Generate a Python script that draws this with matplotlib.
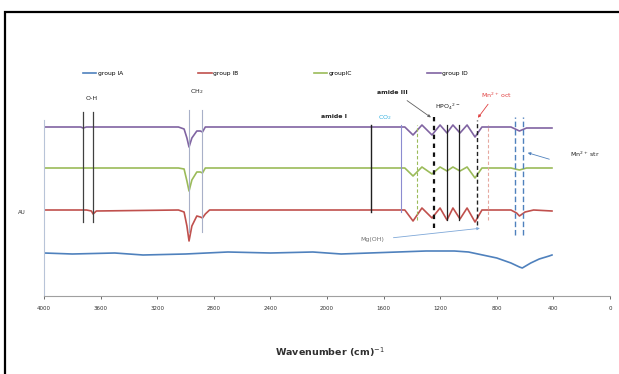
import matplotlib
matplotlib.use("Agg")
import matplotlib.pyplot as plt
from matplotlib.patches import Rectangle

# ---- data (wavenumber in cm-1, intensity in arbitrary units) ----
groups = ["group IA", "group IB", "groupIC", "group ID"]

ia_wn = [4000, 3800, 3500, 3300, 3000, 2700, 2400, 2100, 1900, 1700, 1500, 1300,
         1100, 1000, 900, 800, 700, 640, 620, 560, 500, 430, 410]
ia_val = [43, 42, 43, 41, 42, 44, 43, 44, 42, 43, 44, 45,
          45, 44, 41, 38, 33, 29, 28, 33, 37, 40, 41]

ib_wn = [4000, 3740, 3700, 3665, 3653, 3630, 3050, 3010, 2990, 2975, 2955, 2920,
         2895, 2880, 2860, 2830, 1500, 1450, 1392, 1329, 1258, 1201, 1152, 1110,
         1060, 1010, 954, 905, 700, 660, 640, 600, 540, 410]
ib_val = [86, 86, 86, 85, 82, 85, 86, 84, 70, 55, 70, 80,
          79, 78, 82, 86, 86, 86, 75, 88, 78, 88, 76, 88,
          77, 88, 74, 86, 86, 83, 80, 84, 86, 85]

ic_wn = [4000, 3050, 3010, 2990, 2975, 2955, 2920, 2895, 2880, 2860, 1500, 1450,
         1392, 1329, 1258, 1201, 1152, 1110, 1060, 1010, 954, 905, 700, 640, 590, 410]
ic_val = [128, 128, 127, 115, 105, 116, 124, 124, 123, 128, 128, 128,
          120, 129, 122, 129, 125, 129, 125, 129, 118, 128, 128, 126, 128, 128]

id_wn = [4000, 3740, 3724, 3700, 3050, 3010, 2990, 2975, 2955, 2920, 2895, 2880,
         2860, 1500, 1450, 1392, 1329, 1258, 1201, 1152, 1110, 1060, 1010, 954,
         905, 700, 640, 590, 410]
id_val = [169, 169, 168, 169, 169, 167, 158, 149, 158, 165, 165, 164,
          169, 169, 169, 161, 171, 161, 171, 163, 171, 163, 171, 159,
          169, 169, 165, 168, 168]

band_wn = [3724, 3653, 2975, 2883, 1689, 1477, 1364, 1244, 1152, 1067, 940, 862, 671, 615]
xticks = [4000, 3600, 3200, 2800, 2400, 2000, 1600, 1200, 800, 400, 0]

# ---- figure ----
W, H, DPI = 619, 374, 100
fig = plt.figure(figsize=(W / DPI, H / DPI), dpi=DPI)
fig.patch.set_facecolor("white")

ax = fig.add_axes([44 / W, 1 - 296 / H, 566 / W, 236 / H])
ax.set_xlim(4000, 0)
ax.set_ylim(0, 236)

colors = ["#4F81BD", "#C0504D", "#9BBB59", "#8064A2"]
series = [(ia_wn, ia_val), (ib_wn, ib_val), (ic_wn, ic_val), (id_wn, id_val)]
for name, (wn, val), c in zip(groups, series, colors):
    ax.plot(wn, val, color=c, lw=1.2, label=name)

# band marker lines: (ymin, ymax, colour, width, dash)
band_style = [
    (74, 184, "#404040", 0.9, None),
    (74, 184, "#404040", 0.9, None),
    (64, 186, "#A8B0C8", 0.8, None),
    (64, 186, "#A8B0C8", 0.8, None),
    (84, 171, "#202020", 1.0, None),
    (84, 171, "#8C8CD0", 0.8, None),
    (76, 171, "#9BBB59", 0.8, (3, 2)),
    (68, 179, "#101010", 1.6, (2, 2)),
    (76, 171, "#202020", 0.9, None),
    (76, 171, "#202020", 0.9, None),
    (71, 176, "#202020", 1.0, (3, 2)),
    (76, 171, "#E6A8A0", 0.8, (3, 2)),
    (61, 179, "#4F81BD", 1.0, (4, 2)),
    (61, 179, "#4F81BD", 1.0, (4, 2)),
]
for w, (y0, y1, c, lw, dash) in zip(band_wn, band_style):
    line, = ax.plot([w, w], [y0, y1], color=c, lw=lw, zorder=3)
    if dash:
        line.set_dashes(dash)

# annotations
fs = 4.5
ax.text(3660, 196, "O-H", fontsize=fs, ha="center", color="#202020")
ax.text(2920, 203, "CH$_2$", fontsize=fs, ha="center", color="#202020")
ax.text(1950, 178, "amide I", fontsize=fs, ha="center", color="#202020", weight="bold")
ax.text(1590, 177, "CO$_2$", fontsize=fs, ha="center", color="#30B0E0")
ax.text(1540, 202, "amide III", fontsize=fs, ha="center", color="#202020", weight="bold")
ax.text(1150, 187, "HPO$_4$$^{2-}$", fontsize=fs, ha="center", color="#202020")
ax.text(800, 198, "Mn$^{2+}$ oct", fontsize=fs, ha="center", color="#E04040")
ax.text(180, 139, "Mn$^{2+}$ str", fontsize=fs, ha="center", color="#202020")
ax.text(1680, 55, "Mg(OH)", fontsize=fs, ha="center", color="#707070")
ax.annotate("", xy=(1250, 177), xytext=(1450, 197),
            arrowprops=dict(arrowstyle="-|>", color="#606060", lw=0.6, mutation_scale=4))
ax.annotate("", xy=(945, 176), xytext=(850, 194),
            arrowprops=dict(arrowstyle="-|>", color="#E04040", lw=0.6, mutation_scale=4))
ax.annotate("", xy=(600, 144), xytext=(410, 136),
            arrowprops=dict(arrowstyle="-|>", color="#4F81BD", lw=0.6, mutation_scale=4))
ax.annotate("", xy=(900, 68), xytext=(1550, 58),
            arrowprops=dict(arrowstyle="-|>", color="#7FA8D8", lw=0.6, mutation_scale=4))

# axes styling
for side in ("top", "right"):
    ax.spines[side].set_visible(False)
ax.spines["left"].set_bounds(0, 176)
ax.spines["left"].set_color("#B8C4D8")
ax.spines["bottom"].set_color("#A0A0A0")
ax.spines["bottom"].set_linewidth(0.8)
ax.set_yticks([])
ax.set_xticks(xticks)
ax.set_xticklabels([str(t) for t in xticks])
ax.tick_params(axis="x", labelsize=4, colors="#303030", length=2, width=0.5, pad=5)
ax.set_facecolor("none")

ax.legend(loc="lower left", bbox_to_anchor=(83 / W, 1 - 76 / H), bbox_transform=fig.transFigure,
          ncol=4, frameon=False, fontsize=4.3, handlelength=2.2, handletextpad=0.3,
          columnspacing=12.6, borderaxespad=0, borderpad=0)

fig.text(22 / W, 1 - 212 / H, "AU", fontsize=4, ha="center", va="center", color="#303030")
fig.text(330 / W, 1 - 352 / H, "Wavenumber (cm)$^{-1}$", fontsize=6.8, ha="center",
         va="center", color="#303030", weight="bold")

# outer frame (partially cropped)
fig.add_artist(Rectangle((5 / W, -0.2), 1.2, 0.2 + 1 - 12 / H, transform=fig.transFigure,
                         fill=False, edgecolor="black", lw=1.6))

fig.savefig("out.png", dpi=DPI, facecolor="white")
